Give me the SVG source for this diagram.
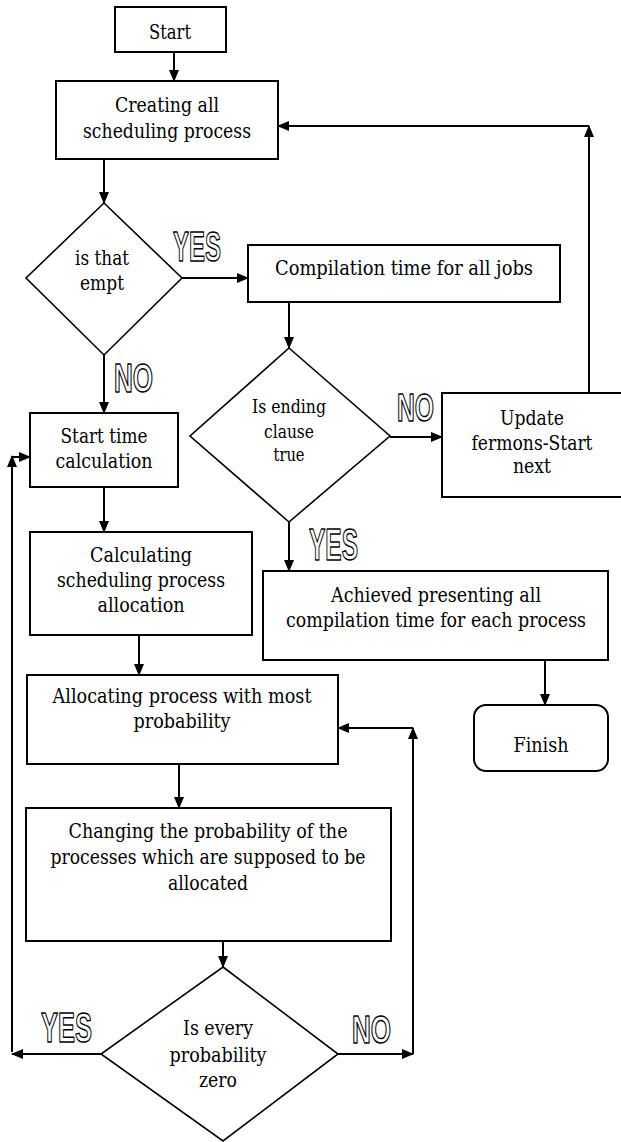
<svg xmlns="http://www.w3.org/2000/svg" width="621" height="1142" viewBox="0 0 621 1142">
<style>
.box{fill:#fff;stroke:#000;stroke-width:2}
.dia{fill:#fff;stroke:#000;stroke-width:1.6}
.t{font-family:"DejaVu Serif","Liberation Serif",serif;font-size:20px;fill:#000;text-anchor:middle}
.t20{font-size:18.2px}
.lbl{font-family:"Liberation Sans Narrow","Liberation Sans",sans-serif;font-weight:bold;fill:#fff;stroke:#000;stroke-width:1.5;stroke-linejoin:round}
.c{fill:none;stroke:#000;stroke-width:2}
</style>
<defs>
<marker id="ah" markerWidth="12" markerHeight="10" refX="11" refY="5" orient="auto" markerUnits="userSpaceOnUse">
<path d="M0,0 L12,5 L0,10 Z" fill="#000"/>
</marker>
</defs>
<g id="start"><rect class="box" x="115" y="7" width="111" height="45"/><text class="t" x="170" y="39" textLength="42" lengthAdjust="spacingAndGlyphs">Start</text></g>
<g id="creating"><rect class="box" x="56" y="81" width="222" height="78"/><text class="t" x="167" y="112" textLength="104" lengthAdjust="spacingAndGlyphs">Creating all</text><text class="t" x="167" y="138" textLength="168" lengthAdjust="spacingAndGlyphs">scheduling process</text></g>
<g id="empty"><polygon class="dia" points="104,203 182,278 104,355 26,278"/><text class="t" x="102" y="265" textLength="54" lengthAdjust="spacingAndGlyphs">is that</text><text class="t" x="102" y="290" textLength="44" lengthAdjust="spacingAndGlyphs">empt</text></g>
<g id="compilation"><rect class="box" x="248" y="245" width="312" height="57"/><text class="t" x="404" y="275" textLength="258" lengthAdjust="spacingAndGlyphs">Compilation time for all jobs</text></g>
<g id="ending"><polygon class="dia" points="289,348 390,436 289,522 190,436"/><text class="t t20" x="289" y="413" textLength="74" lengthAdjust="spacingAndGlyphs">Is ending</text><text class="t t20" x="289" y="438" textLength="50" lengthAdjust="spacingAndGlyphs">clause</text><text class="t t20" x="289" y="461" textLength="31" lengthAdjust="spacingAndGlyphs">true</text></g>
<g id="update"><rect class="box" x="442" y="393" width="190" height="104"/><text class="t" x="532" y="425" textLength="64" lengthAdjust="spacingAndGlyphs">Update</text><text class="t" x="532" y="450" textLength="121" lengthAdjust="spacingAndGlyphs">fermons-Start</text><text class="t" x="532" y="473" textLength="38" lengthAdjust="spacingAndGlyphs">next</text></g>
<g id="starttime"><rect class="box" x="30" y="413" width="148" height="74"/><text class="t" x="104" y="443" textLength="87" lengthAdjust="spacingAndGlyphs">Start time</text><text class="t" x="104" y="468" textLength="97" lengthAdjust="spacingAndGlyphs">calculation</text></g>
<g id="calculating"><rect class="box" x="30" y="532" width="222" height="103"/><text class="t" x="141" y="562" textLength="102" lengthAdjust="spacingAndGlyphs">Calculating</text><text class="t" x="141" y="587" textLength="168" lengthAdjust="spacingAndGlyphs">scheduling process</text><text class="t" x="141" y="612" textLength="87" lengthAdjust="spacingAndGlyphs">allocation</text></g>
<g id="achieved"><rect class="box" x="263" y="571" width="345" height="89"/><text class="t" x="436" y="602" textLength="210" lengthAdjust="spacingAndGlyphs">Achieved presenting all</text><text class="t" x="436" y="627" textLength="300" lengthAdjust="spacingAndGlyphs">compilation time for each process</text></g>
<g id="finish"><rect class="box" x="474" y="705" width="134" height="66" rx="12" ry="12"/><text class="t" x="541" y="752" textLength="55" lengthAdjust="spacingAndGlyphs">Finish</text></g>
<g id="allocating"><rect class="box" x="27" y="675" width="311" height="89"/><text class="t" x="182" y="703" textLength="259" lengthAdjust="spacingAndGlyphs">Allocating process with most</text><text class="t" x="182" y="728" textLength="97" lengthAdjust="spacingAndGlyphs">probability</text></g>
<g id="changing"><rect class="box" x="26" y="808" width="365" height="133"/><text class="t" x="208" y="838" textLength="279" lengthAdjust="spacingAndGlyphs">Changing the probability of the</text><text class="t" x="208" y="864" textLength="315" lengthAdjust="spacingAndGlyphs">processes which are supposed to be</text><text class="t" x="208" y="890" textLength="80" lengthAdjust="spacingAndGlyphs">allocated</text></g>
<g id="zero"><polygon class="dia" points="223,967 338,1054 223,1141 101,1054"/><text class="t" x="218" y="1035" textLength="70" lengthAdjust="spacingAndGlyphs">Is every</text><text class="t" x="218" y="1062" textLength="97" lengthAdjust="spacingAndGlyphs">probability</text><text class="t" x="218" y="1087" textLength="38" lengthAdjust="spacingAndGlyphs">zero</text></g>
<g id="connectors">
<path class="c" d="M174,52 V81" marker-end="url(#ah)"/>
<path class="c" d="M104,159 V203" marker-end="url(#ah)"/>
<path class="c" d="M182,278 H248" marker-end="url(#ah)"/>
<path class="c" d="M289,302 V348" marker-end="url(#ah)"/>
<path class="c" d="M390,437 H442" marker-end="url(#ah)"/>
<path class="c" d="M589,393 V126" marker-end="url(#ah)"/>
<path class="c" d="M589,126 H278" marker-end="url(#ah)"/>
<path class="c" d="M289,522 V571" marker-end="url(#ah)"/>
<path class="c" d="M545,660 V705" marker-end="url(#ah)"/>
<path class="c" d="M104,355 V413" marker-end="url(#ah)"/>
<path class="c" d="M104,487 V532" marker-end="url(#ah)"/>
<path class="c" d="M139,635 V675" marker-end="url(#ah)"/>
<path class="c" d="M179,764 V808" marker-end="url(#ah)"/>
<path class="c" d="M223,941 V967" marker-end="url(#ah)"/>
<path class="c" d="M101,1054 H12" marker-end="url(#ah)"/>
<path class="c" d="M12,1052 V456" marker-end="url(#ah)"/>
<path class="c" d="M12,457 H30" marker-end="url(#ah)"/>
<path class="c" d="M338,1054 H413" marker-end="url(#ah)"/>
<path class="c" d="M413,1054 V728" marker-end="url(#ah)"/>
<path class="c" d="M413,728 H338" marker-end="url(#ah)"/>
</g>
<g id="labels">
<text class="lbl" x="173" y="261" font-size="43" textLength="48" lengthAdjust="spacingAndGlyphs">YES</text>
<text class="lbl" x="114" y="392" font-size="40" textLength="39" lengthAdjust="spacingAndGlyphs">NO</text>
<text class="lbl" x="397" y="421" font-size="39" textLength="37" lengthAdjust="spacingAndGlyphs">NO</text>
<text class="lbl" x="309" y="560" font-size="44" textLength="49" lengthAdjust="spacingAndGlyphs">YES</text>
<text class="lbl" x="41" y="1042" font-size="43" textLength="51" lengthAdjust="spacingAndGlyphs">YES</text>
<text class="lbl" x="352" y="1043" font-size="39" textLength="39" lengthAdjust="spacingAndGlyphs">NO</text>
</g>
</svg>
